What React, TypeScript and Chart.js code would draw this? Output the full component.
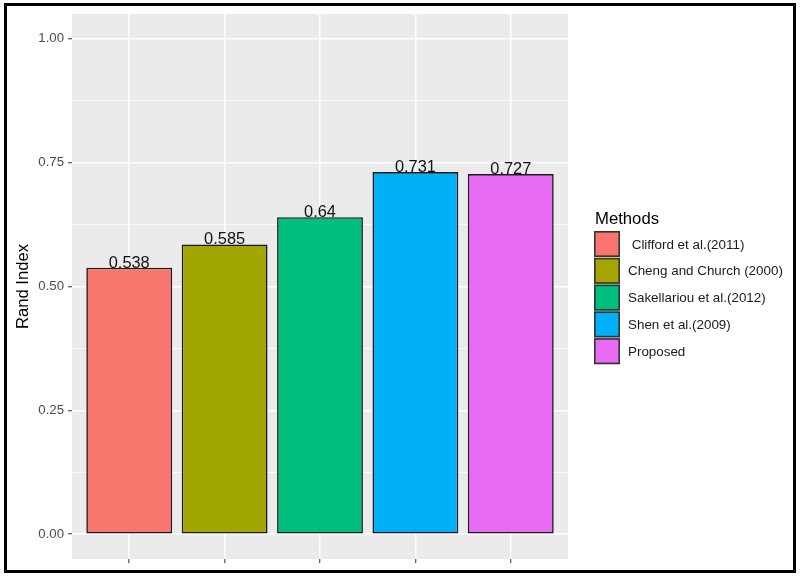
import React, { useEffect, useRef } from "react";
import { Chart, registerables } from "chart.js";

Chart.register(...registerables);

const methods = [" Clifford et al.(2011)", "Cheng and Church (2000)", "Sakellariou et al.(2012)", "Shen et al.(2009)", "Proposed"];
const randIndex = [0.538, 0.585, 0.64, 0.731, 0.727];
const valueLabels = ["0.538", "0.585", "0.64", "0.731", "0.727"];
const barColors = ["#F8766D", "#A3A500", "#00BF7D", "#00B0F6", "#E76BF3"];
const yMajorTicks = [0, 0.25, 0.5, 0.75, 1];
const yTickLabels = ["0.00", "0.25", "0.50", "0.75", "1.00"];
const yMinorTicks = [0.125, 0.375, 0.625, 0.875];
const legendTitle = "Methods";
const yTitle = "Rand Index";

const FONT = "'Liberation Sans', Arial, sans-serif";

const isMajor = (v: number) => yMajorTicks.some((t) => Math.abs(t - v) < 1e-9);

const panelPlugin = {
  id: "panelBg",
  beforeDraw(chart: any) {
    const { ctx, chartArea } = chart;
    ctx.save();
    ctx.fillStyle = "#EBEBEB";
    ctx.fillRect(chartArea.left, chartArea.top, chartArea.right - chartArea.left, chartArea.bottom - chartArea.top);
    ctx.restore();
  },
};

const valueLabelPlugin = {
  id: "valueLabels",
  afterDatasetsDraw(chart: any) {
    const { ctx } = chart;
    const meta = chart.getDatasetMeta(0);
    ctx.save();
    ctx.font = `16.4px ${FONT}`;
    ctx.fillStyle = "#111";
    ctx.textAlign = "center";
    ctx.textBaseline = "alphabetic";
    meta.data.forEach((bar: any, i: number) => {
      ctx.fillText(valueLabels[i], bar.x, bar.y);
    });
    ctx.restore();
  },
};

const customLegendPlugin = {
  id: "customLegend",
  afterDraw(chart: any) {
    const { ctx, chartArea } = chart;
    const labels: string[] = chart.data.labels;
    const colors: string[] = chart.data.datasets[0].backgroundColor;
    const x0 = chartArea.right + 26;
    const boxSize = 26;
    const pitch = 26.8;
    const n = labels.length;
    const blockH = 23 + n * pitch;
    const top = (chartArea.top + chartArea.bottom) / 2 - blockH / 2;
    ctx.save();
    ctx.font = `16.7px ${FONT}`;
    ctx.fillStyle = "#000";
    ctx.textAlign = "left";
    ctx.textBaseline = "alphabetic";
    ctx.fillText(legendTitle, x0 + 1, top + 16);
    const boxTop = top + 23;
    ctx.font = `13.4px ${FONT}`;
    ctx.textBaseline = "middle";
    labels.forEach((lab, i) => {
      const y = boxTop + i * pitch;
      ctx.fillStyle = colors[i];
      ctx.fillRect(x0, y, boxSize, boxSize);
      ctx.strokeStyle = "#333";
      ctx.lineWidth = 1.6;
      ctx.strokeRect(x0 + 0.8, y + 0.8, boxSize - 1.6, boxSize - 1.6);
      ctx.fillStyle = "#1a1a1a";
      ctx.fillText(lab, x0 + boxSize + 8, y + boxSize / 2 + 1);
    });
    ctx.restore();
  },
};

export default function App() {
  const canvasRef = useRef<HTMLCanvasElement | null>(null);

  useEffect(() => {
    if (!canvasRef.current) return;
    Chart.defaults.font.family = FONT;
    const chart = new Chart(canvasRef.current, {
      type: "bar",
      data: {
        labels: methods,
        datasets: [
          {
            data: randIndex.map((v, i) => ({ x: i, y: v })) as any,
            backgroundColor: barColors,
            borderColor: "#1a1a1a",
            borderWidth: 1.6,
            borderSkipped: false,
            barPercentage: 0.9,
            categoryPercentage: 1.0,
          },
        ],
      },
      options: {
        responsive: false,
        animation: false,
        layout: { padding: { top: 14, right: 232, left: 0, bottom: 0 } },
        plugins: {
          legend: { display: false },
          tooltip: { enabled: false },
        },
        scales: {
          x: {
            type: "linear",
            min: -0.6,
            max: 4.6,
            offset: false,
            afterBuildTicks: (scale: any) => {
              scale.ticks = randIndex.map((_, i) => ({ value: i }));
            },
            afterFit: (scale: any) => {
              scale.height = 19;
            },
            ticks: { callback: () => "", padding: 0 },
            grid: {
              offset: false,
              color: "#FFFFFF",
              lineWidth: 1.5,
              drawTicks: true,
              tickLength: 4,
              tickColor: "#333333",
              tickWidth: 1,
            },
            border: { display: false },
          },
          y: {
            type: "linear",
            min: -0.05,
            max: 1.05,
            afterBuildTicks: (scale: any) => {
              const all = [...yMajorTicks, ...yMinorTicks].sort((a, b) => a - b);
              scale.ticks = all.map((v) => ({ value: v }));
            },
            afterFit: (scale: any) => {
              scale.width = 72;
            },
            ticks: {
              autoSkip: false,
              padding: 4,
              color: "#4D4D4D",
              font: { size: 13.2 },
              callback: (v: any) => {
                const idx = yMajorTicks.findIndex((t) => Math.abs(t - Number(v)) < 1e-9);
                return idx >= 0 ? yTickLabels[idx] : "";
              },
            },
            grid: {
              color: "#FFFFFF",
              lineWidth: (c: any) => (isMajor(c.tick?.value) ? 1.5 : 0.75),
              drawTicks: true,
              tickLength: 4,
              tickColor: (c: any) => (isMajor(c.tick?.value) ? "#333333" : "rgba(0,0,0,0)"),
              tickWidth: 1,
            },
            border: { display: false },
            title: {
              display: true,
              text: yTitle,
              color: "#000",
              font: { size: 16.6 },
              padding: { top: 13, bottom: 0 },
            },
          },
        },
      },
      plugins: [panelPlugin, valueLabelPlugin, customLegendPlugin],
    } as any);
    return () => chart.destroy();
  }, []);

  return (
    <div style={{ position: "fixed", left: 0, top: 0, width: 800, height: 578, background: "#fff" }}>
      <div
        style={{
          position: "absolute",
          left: 4,
          top: 3,
          width: 792,
          height: 570,
          border: "3px solid #000",
          boxSizing: "border-box",
        }}
      />
      <canvas ref={canvasRef} width={800} height={578} style={{ position: "absolute", left: 0, top: 0 }} />
    </div>
  );
}
